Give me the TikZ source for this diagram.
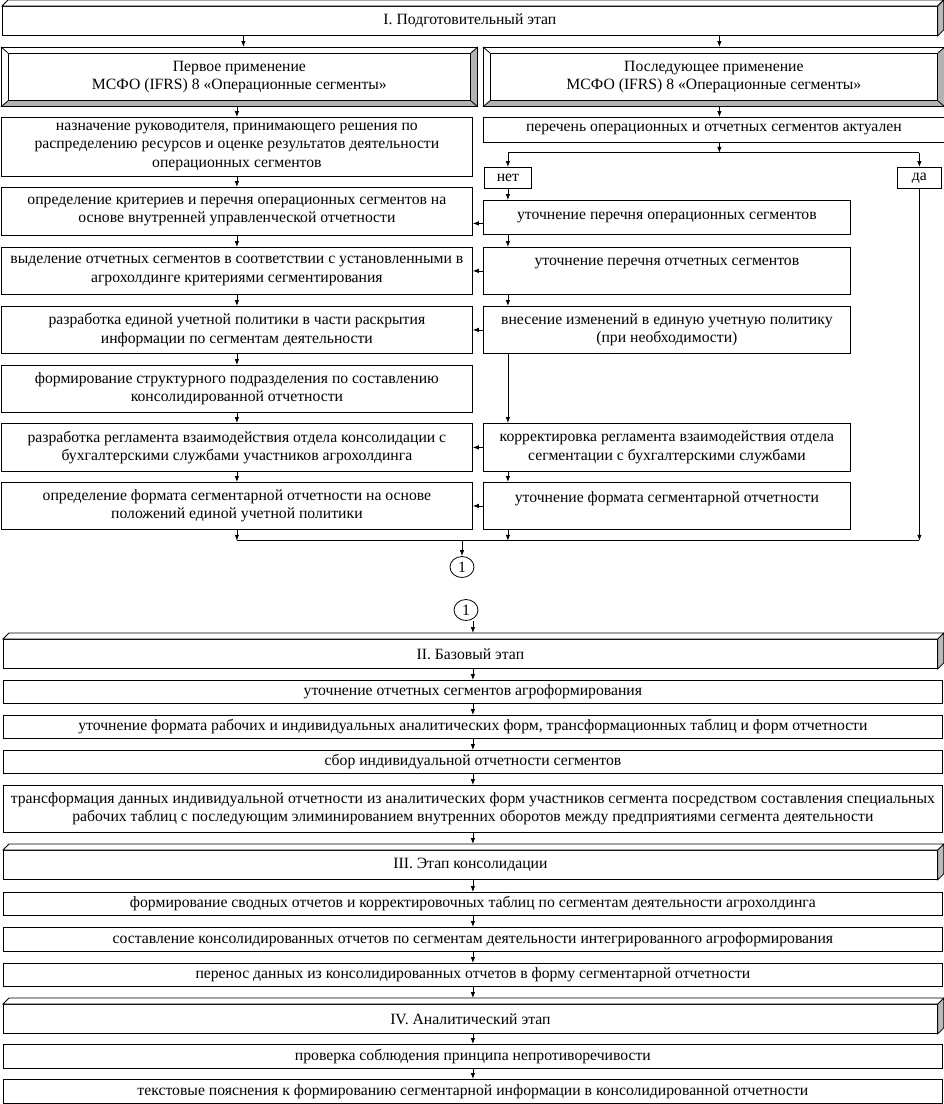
\documentclass[tikz,border=0pt]{standalone}
\usepackage{fontspec}
\setmainfont{Liberation Serif}
\usetikzlibrary{arrows.meta,shapes.geometric}
\tikzset{
 box/.style={draw, line width=0.8pt, align=center, inner sep=0pt, anchor=north west, font=\fontsize{15.7}{18.5}\selectfont},
 arr/.style={-{Latex[length=6pt,width=4.5pt]}, line width=0.8pt},
 ln/.style={line width=0.8pt},
 side/.style={draw, line width=0.8pt, fill=gray!55},
 circ/.style={draw, ellipse, line width=0.8pt, minimum width=24pt, minimum height=21pt, inner sep=0pt, font=\fontsize{15.7}{18.5}\selectfont},
}
\newcommand\extrude[1]{%
 \draw[ln, fill=white] (#1.north west) -- ++(6,-6) -- ([shift={(6,-6)}]#1.north east) -- (#1.north east) -- cycle;
 \draw[side] (#1.north east) -- ++(6,-6) -- ([shift={(6,-6)}]#1.south east) -- (#1.south east) -- cycle;
 \coordinate (#1top) at ([yshift=6pt]#1.north);}
\newcommand\bevel[1]{%
 \fill[gray!60] (#1.north east) -- (#1.south east) -- (#1.south west) -- ([shift={(7,-6)}]#1.south west) -- ([shift={(-7,-6)}]#1.south east) -- ([shift={(-7,6)}]#1.north east) -- cycle;
 \draw[ln] (#1.north west) rectangle (#1.south east);
 \draw[ln] ([shift={(7,6)}]#1.north west) rectangle ([shift={(-7,-6)}]#1.south east);
 \draw[ln] (#1.north west) -- ++(7,6) (#1.north east) -- ++(-7,6) (#1.south west) -- ++(7,-6) (#1.south east) -- ++(-7,-6);}
\begin{document}
\begin{tikzpicture}[x=1pt,y=-1pt]
\useasboundingbox (0,0) rectangle (944,1104);
% Stage I
\node[box, minimum width=935pt, minimum height=29pt] (s1) at (2,6) {I. Подготовительный этап};
\extrude{s1}
\node[box, minimum width=476pt, minimum height=59pt] (L0) at (1,47) {Первое применение\\МСФО (IFRS) 8 «Операционные сегменты»};
\bevel{L0}
\node[box, minimum width=461pt, minimum height=59pt] (R0) at (483,47) {Последующее применение\\МСФО (IFRS) 8 «Операционные сегменты»};
\bevel{R0}
% left column
\node[box, minimum width=471pt, minimum height=59pt] (L1) at (1,117) {назначение руководителя, принимающего решения по\\распределению ресурсов и оценке результатов деятельности\\операционных сегментов};
\node[box, minimum width=471pt, minimum height=48pt] (L2) at (1,187) {определение критериев и перечня операционных сегментов на\\основе внутренней управленческой отчетности};
\node[box, minimum width=471pt, minimum height=47pt] (L3) at (1,247) {выделение отчетных сегментов в соответствии с установленными в\\агрохолдинге критериями сегментирования};
\node[box, minimum width=471pt, minimum height=47pt] (L4) at (1,306) {разработка единой учетной политики в части раскрытия\\информации по сегментам деятельности};
\node[box, minimum width=471pt, minimum height=47pt] (L5) at (1,365) {формирование структурного подразделения по составлению\\консолидированной отчетности};
\node[box, minimum width=471pt, minimum height=48pt] (L6) at (1,423) {разработка регламента взаимодействия отдела консолидации с\\бухгалтерскими службами участников агрохолдинга};
\node[box, minimum width=471pt, minimum height=47pt] (L7) at (1,482) {определение формата сегментарной отчетности на основе\\положений единой учетной политики};
% right column
\node[box, minimum width=461pt, minimum height=25pt] (R1) at (483,117) {перечень операционных и отчетных сегментов актуален};
\node[box, minimum width=47pt, minimum height=21pt] (net) at (484,167) {нет};
\node[box, minimum width=44pt, minimum height=21pt] (da) at (897,167) {да};
\node[box, minimum width=367pt, minimum height=34pt] (R2) at (483,200) {уточнение перечня операционных сегментов};
\node[box, minimum width=367pt, minimum height=47pt] (R3) at (483,247) {уточнение перечня отчетных сегментов\\\mbox{}};
\node[box, minimum width=367pt, minimum height=47pt] (R4) at (483,306) {внесение изменений в единую учетную политику\\(при необходимости)};
\node[box, minimum width=367pt, minimum height=48pt] (R5) at (483,423) {корректировка регламента взаимодействия отдела\\сегментации с бухгалтерскими службами};
\node[box, minimum width=367pt, minimum height=47pt] (R6) at (483,482) {уточнение формата сегментарной отчетности\\\mbox{}};
\node[circ] (c1) at (462,567) {1};
\node[circ] (c2) at (466,610) {1};
% arrows top
\draw[arr] ([xshift=4pt]L0.north |- s1.south) -- ([xshift=4pt]L0.north);
\draw[arr] ([xshift=5.5pt]R0.north |- s1.south) -- ([xshift=5.5pt]R0.north);
\draw[arr] (L1.north |- L0.south) -- (L1.north);
\foreach \a/\b in {L1/L2,L2/L3,L3/L4,L4/L5,L5/L6,L6/L7} \draw[arr] (\a.south) -- (\b.north);
\draw[arr] ([xshift=5.5pt]R1.north |- R0.south) -- ([xshift=5.5pt]R1.north);
\draw[arr] ([xshift=5.5pt]R1.south) -- ++(0,10) coordinate (fork);
\draw[ln] (net.north |- fork) -- (da.north |- fork);
\draw[arr] (net.north |- fork) -- (net.north);
\draw[arr] (da.north |- fork) -- (da.north);
\draw[arr] (net.south) -- (net.south |- R2.north);
\foreach \a/\b in {R2/R3,R3/R4,R4/R5,R5/R6} \draw[arr] (\a.south -| net.south) -- (\b.north -| net.south);
\draw[arr] ([yshift=-6pt]R2.west) -- ([yshift=-6pt]R2.west -| L2.east);
\draw[arr] (R3.west) -- (R3.west -| L3.east);
\draw[arr] (R4.west) -- (R4.west -| L4.east);
\draw[arr] (R5.west) -- (R5.west -| L6.east);
\draw[arr] (R6.west) -- (R6.west -| L7.east);
\draw[arr] (L7.south) -- ++(0,11) coordinate (bl);
\draw[ln] (bl) -- (bl -| da.south);
\draw[arr] (da.south) -- (da.south |- bl);
\draw[arr] (R6.south -| net.south) -- (bl -| net.south);
\draw[arr] (c1.north |- bl) -- (c1.north);
% lower part
\node[box, minimum width=934pt, minimum height=29pt] (s2) at (3,639) {II. Базовый этап};
\extrude{s2}
\node[box, minimum width=939pt, minimum height=23pt] (B1) at (3,680) {уточнение отчетных сегментов агроформирования};
\node[box, minimum width=939pt, minimum height=23pt] (B2) at (3,715) {уточнение формата рабочих и индивидуальных аналитических форм, трансформационных таблиц и форм отчетности};
\node[box, minimum width=939pt, minimum height=23pt] (B3) at (3,750) {сбор индивидуальной отчетности сегментов};
\node[box, minimum width=939pt, minimum height=47pt] (B4) at (3,785) {трансформация данных индивидуальной отчетности из аналитических форм участников сегмента посредством составления специальных\\рабочих таблиц с последующим элиминированием внутренних оборотов между предприятиями сегмента деятельности};
\node[box, minimum width=934pt, minimum height=29pt] (s3) at (3,850) {III. Этап консолидации};
\extrude{s3}
\node[box, minimum width=939pt, minimum height=23pt] (B5) at (3,892) {формирование сводных отчетов и корректировочных таблиц по сегментам деятельности агрохолдинга};
\node[box, minimum width=939pt, minimum height=24pt] (B6) at (3,927) {составление консолидированных отчетов по сегментам деятельности интегрированного агроформирования};
\node[box, minimum width=939pt, minimum height=23pt] (B7) at (3,963) {перенос данных из консолидированных отчетов в форму сегментарной отчетности};
\node[box, minimum width=934pt, minimum height=29pt] (s4) at (3,1004) {IV. Аналитический этап};
\extrude{s4}
\node[box, minimum width=939pt, minimum height=24pt] (B8) at (3,1044) {проверка соблюдения принципа непротиворечивости};
\node[box, minimum width=939pt, minimum height=24pt] (B9) at (3,1079) {текстовые пояснения к формированию сегментарной информации в консолидированной отчетности};
\draw[arr] (c2.south -| B1.north) -- (s2top -| B1.north);
\draw[arr] (s2.south -| B1.north) -- (B1.north);
\foreach \a/\b in {B1/B2,B2/B3,B3/B4,B5/B6,B6/B7,B8/B9} \draw[arr] (\a.south) -- (\b.north);
\draw[arr] (B4.south) -- (s3top -| B4.south);
\draw[arr] (s3.south -| B5.north) -- (B5.north);
\draw[arr] (B7.south) -- (s4top -| B7.south);
\draw[arr] (s4.south -| B8.north) -- (B8.north);
\end{tikzpicture}
\end{document}
